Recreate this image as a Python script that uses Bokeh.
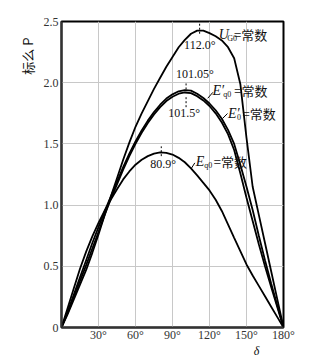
import math
from bokeh.plotting import figure
from bokeh.layouts import column
from bokeh.models import Range1d, FixedTicker, Label, Title
from bokeh.embed import file_html
from bokeh.resources import INLINE
from bokeh.core.properties import value

# ---------------- data ----------------
DELTA = list(range(0, 181, 5))  # power angle, degrees

P_UG0 = [0, 0.11, 0.23, 0.35, 0.47, 0.61, 0.76, 0.92, 1.07, 1.22, 1.37, 1.51, 1.64,
         1.75, 1.85, 1.95, 2.04, 2.13, 2.21, 2.29, 2.35, 2.40, 2.425, 2.425, 2.405,
         2.38, 2.345, 2.29, 2.20, 1.99, 1.55, 1.15, 0.92, 0.69, 0.46, 0.23, 0]
P_EQP0 = [0, 0.13, 0.27, 0.41, 0.55, 0.69, 0.82, 0.95, 1.07, 1.19, 1.31, 1.42, 1.52,
          1.61, 1.69, 1.76, 1.82, 1.87, 1.905, 1.93, 1.94, 1.935, 1.91, 1.875, 1.83,
          1.775, 1.705, 1.615, 1.50, 1.33, 1.15, 0.96, 0.75, 0.55, 0.36, 0.18, 0]
P_EP0 = [0, 0.12, 0.25, 0.38, 0.51, 0.645, 0.78, 0.92, 1.05, 1.17, 1.29, 1.40, 1.50,
         1.59, 1.67, 1.74, 1.80, 1.85, 1.885, 1.91, 1.92, 1.915, 1.89, 1.855, 1.81,
         1.75, 1.675, 1.58, 1.45, 1.26, 1.06, 0.87, 0.68, 0.50, 0.33, 0.165, 0]
P_EQ0 = [0, 0.16, 0.32, 0.48, 0.62, 0.745, 0.855, 0.955, 1.045, 1.13, 1.21, 1.275, 1.33,
         1.37, 1.40, 1.42, 1.43, 1.427, 1.413, 1.386, 1.35, 1.30, 1.243, 1.182, 1.12,
         1.044, 0.952, 0.843, 0.733, 0.624, 0.515, 0.425, 0.34, 0.255, 0.17, 0.085, 0]

PEAK_ANGLE_LABELS = ["112.0°", "101.05°", "101.5°", "80.9°"]

X_TICKS = [30, 60, 90, 120, 150, 180]
X_TICK_LABELS = ["30°", "60°", "90°", "120°", "150°", "180°"]
Y_TICKS = [0, 0.5, 1.0, 1.5, 2.0, 2.5]
Y_TICK_LABELS = ["0", "0.5", "1.0", "1.5", "2.0", "2.5"]
GRID_X = [30, 60, 90, 120, 150]

SERIF = "Liberation Serif"
CJK = "Noto Sans CJK SC"

# ---------------- main figure ----------------
p = figure(width=312, height=344, x_range=Range1d(0, 180), y_range=Range1d(0, 2.5),
           output_backend="svg", toolbar_location=None,
           min_border_left=61, min_border_right=29, min_border_top=21, min_border_bottom=16)
p.background_fill_color = "white"
p.border_fill_color = "white"
p.outline_line_color = "black"
p.outline_line_width = 2
p.outline_line_alpha = 1

p.xaxis.ticker = FixedTicker(ticks=X_TICKS)
p.yaxis.ticker = FixedTicker(ticks=Y_TICKS)
p.xaxis.major_label_overrides = {t: l for t, l in zip(X_TICKS, X_TICK_LABELS)}
p.yaxis.major_label_overrides = {t: l for t, l in zip(Y_TICKS, Y_TICK_LABELS)}
for ax in (p.xaxis, p.yaxis):
    ax.major_tick_in = 0
    ax.major_tick_out = 0
    ax.minor_tick_in = 0
    ax.minor_tick_out = 0
    ax.axis_line_width = 2
    ax.axis_line_color = "#333333"
    ax.major_label_text_font = SERIF
    ax.major_label_text_font_size = "12px"
    ax.major_label_text_color = "#333333"
    ax.major_label_standoff = 3
p.xaxis.major_label_standoff = 0
p.xgrid.ticker = FixedTicker(ticks=GRID_X)
p.xgrid.grid_line_color = "#c8c8c8"
p.ygrid.grid_line_color = "#c8c8c8"
p.xgrid.grid_line_width = 1
p.ygrid.grid_line_width = 1

# y-axis title (side title so that it sits near the top)
p.add_layout(Title(text="标么 P", align="right", offset=16, standoff=8,
                   text_font=CJK, text_font_size="13px", text_font_style="normal",
                   text_color="#111111"), "left")

# ---------------- curves ----------------
for ys in (P_EQ0, P_EP0, P_EQP0, P_UG0):
    p.line(DELTA, ys, line_color="black", line_width=1.8)

# dashed markers at the maxima
p.line([112.0, 112.0], [2.40, 2.5], line_color="black", line_width=1, line_dash="2 2")
p.line([101.0, 101.0], [1.945, 1.995], line_color="black", line_width=1, line_dash="2 2")
p.line([101.0, 101.0], [1.80, 1.895], line_color="black", line_width=1, line_dash="2 2")
p.line([80.9, 80.9], [1.40, 1.48], line_color="black", line_width=1, line_dash="2 2")

# leader lines
p.line([118.6, 122.7], [1.873, 1.921], line_color="black", line_width=1)
p.line([130.6, 134.6], [1.708, 1.748], line_color="black", line_width=1)
p.line([105.4, 108.1], [1.302, 1.345], line_color="black", line_width=1)


def lab(x, y, text, font, size, style="normal", align="left", baseline="middle"):
    p.add_layout(Label(x=x, y=y, text=text, text_font=font, text_font_size=size,
                       text_font_style=style, text_align=align, text_baseline=baseline,
                       text_color="#111111"))


# peak-angle labels
lab(112.1, 2.311, PEAK_ANGLE_LABELS[0], SERIF, "12px", align="center")
lab(108.2, 2.075, PEAK_ANGLE_LABELS[1], SERIF, "12px", align="center")
lab(99.4, 1.756, PEAK_ANGLE_LABELS[2], SERIF, "12px", align="center")
lab(82.5, 1.337, PEAK_ANGLE_LABELS[3], SERIF, "12px", align="center")

# curve names
lab(127.6, 2.396, "U", SERIF, "14px", style="italic")
lab(134.3, 2.364, "G0", SERIF, "8px")
lab(139.8, 2.396, "=常数", CJK, "13px")

lab(122.4, 1.937, "E′", SERIF, "14px", style="italic")
lab(131.2, 1.905, "q0", SERIF, "8px")
lab(140.0, 1.937, "=常数", CJK, "13px")

lab(134.9, 1.751, "E′", SERIF, "14px", style="italic")
lab(142.2, 1.718, "0", SERIF, "8px")
lab(146.8, 1.751, "=常数", CJK, "13px")

lab(108.9, 1.353, "E", SERIF, "14px", style="italic")
lab(115.8, 1.321, "q0", SERIF, "8px")
lab(123.5, 1.353, "=常数", CJK, "13px")

# ---------------- strip below for the x-axis title ----------------
p2 = figure(width=312, height=13, x_range=Range1d(0, 312), y_range=Range1d(0, 13),
            output_backend="svg", toolbar_location=None, x_axis_type=None, y_axis_type=None,
            min_border_left=0, min_border_right=0, min_border_top=0, min_border_bottom=0)
p2.outline_line_color = None
p2.grid.visible = False
p2.background_fill_color = "white"
p2.border_fill_color = "white"
p2.text(x=[274], y=[6.5], text=["δ"], text_font=value(SERIF), text_font_size="12px",
        text_font_style="italic", text_align="center", text_baseline="middle",
        text_color="#111111")

layout = column(p, p2, spacing=0)
open("out.html", "w").write(file_html(layout, INLINE))
